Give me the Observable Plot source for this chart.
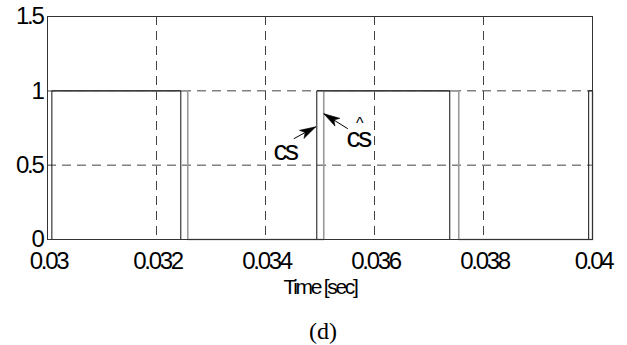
<!DOCTYPE html>
<html>
<head>
<meta charset="utf-8">
<script src="https://cdn.jsdelivr.net/npm/d3@7"></script>
<script src="https://cdn.jsdelivr.net/npm/@observablehq/plot@0.6"></script>
<style>
  html, body { margin: 0; padding: 0; background: #fff; }
  #wrap { width: 627px; height: 345px; position: relative; }
  #chart svg { display: block; }
  #caption { position: absolute; left: 0; top: 310px; width: 627px; height: 35px;
    text-align: center; font-family: 'Liberation Serif', 'DejaVu Serif', serif; font-size: 24px;
    line-height: 24px; padding-top: 9px; box-sizing: border-box; padding-left: 19px; }
</style>
</head>
<body>
<div id="wrap">
  <div id="chart"></div>
  <div id="caption"></div>
</div>
<script>
// ---- data ----
const csTime   = [0.03, 0.03008, 0.032446, 0.034941, 0.037381, 0.03993, 0.04];
const csValue  = [0,    1,       0,        1,        0,        1,       1];
const hatTime  = [0.03, 0.032574, 0.035069, 0.037546, 0.04];
const hatValue = [1,    0,        1,        0,        1];

const xTicks = [0.03, 0.032, 0.034, 0.036, 0.038, 0.04];
const xTickLabels = ["0.03", "0.032", "0.034", "0.036", "0.038", "0.04"];
const yTicks = [0, 0.5, 1, 1.5];
const yTickLabels = ["0", "0.5", "1", "1.5"];
const xGrid = [0.032, 0.034, 0.036, 0.038];
const yGrid = [0.5, 1];

const xLabel = "Time [sec]";
const caption = "(d)";

// annotation arrows (start -> tip) and labels
const arrowFromT = [0.034519, 0.035510];
const arrowFromV = [0.678, 0.745];
const arrowToT   = [0.034923, 0.035070];
const arrowToV   = [0.758, 0.846];
const labelText  = ["cs", "cs", "^"];
const labelT     = [0.034360, 0.035700, 0.035710];
const labelV     = [0.594, 0.681, 0.780];
const labelSize  = [28, 28, 16];

// ---- layout ----
const W = 627, H = 310, ML = 47, MR = 35, MT = 16, MB = 71;
const X0 = 0.03, X1 = 0.04, Y0 = 0, Y1 = 1.5;

// ---- build tables ----
const csData = csTime.map((t, i) => ({t, v: csValue[i]}));
const hatData = hatTime.map((t, i) => ({t, v: hatValue[i]}));
const pxX = (W - ML - MR) / (X1 - X0), pxY = (H - MT - MB) / (Y1 - Y0);
const arrows = arrowFromT.map((t, i) => ({x1: t, y1: arrowFromV[i], x2: arrowToT[i], y2: arrowToV[i]}));
const labels = labelText.map((s, i) => ({s, t: labelT[i], v: labelV[i], size: labelSize[i]}));

// filled wedge arrowhead symbol, tip at the symbol origin
function wedge(a) {
  const dx = (a.x2 - a.x1) * pxX, dy = -(a.y2 - a.y1) * pxY;
  const n = Math.hypot(dx, dy), ux = dx / n, uy = dy / n, px = -uy, py = ux;
  const L = 16, R = 4.6, N = 12;
  return {
    draw(ctx) {
      ctx.moveTo(0, 0);
      ctx.lineTo(-L * ux + R * px, -L * uy + R * py);
      ctx.lineTo(-N * ux, -N * uy);
      ctx.lineTo(-L * ux - R * px, -L * uy - R * py);
      ctx.closePath();
    }
  };
}

const FONT = "'Liberation Sans', Arial, sans-serif";

const chart = Plot.plot({
  width: W,
  height: H,
  marginLeft: ML,
  marginRight: MR,
  marginTop: MT,
  marginBottom: MB,
  style: {fontFamily: FONT, fontSize: "24px", color: "black", background: "white", letterSpacing: "-2.3px"},
  x: {domain: [X0, X1]},
  y: {domain: [Y0, Y1]},
  marks: [
    Plot.gridX(xGrid, {stroke: "#222", strokeOpacity: 0.85, strokeDasharray: "9,6"}),
    Plot.gridY(yGrid, {stroke: "#222", strokeOpacity: 0.85, strokeDasharray: "9,6"}),
    Plot.line(hatData, {x: "t", y: "v", curve: "step-after", stroke: "#9a9a9a", strokeWidth: 1.6}),
    Plot.line(csData, {x: "t", y: "v", curve: "step-after", stroke: "#111", strokeWidth: 1}),
    Plot.frame({stroke: "#333", strokeWidth: 1}),
    Plot.axisX({ticks: xTicks, tickSize: 0, tickPadding: 12, label: null, dx: 1,
      tickFormat: (d) => xTickLabels[xTicks.indexOf(d)], fontSize: 24}),
    Plot.axisY({ticks: yTicks, tickSize: 0, tickPadding: 5, label: null,
      tickFormat: (d) => yTickLabels[yTicks.indexOf(d)], fontSize: 24}),
    Plot.link(arrows, {x1: "x1", y1: "y1", x2: "x2", y2: "y2", stroke: "black", strokeWidth: 1}),
    ...arrows.map(a => Plot.dot([a], {x: "x2", y: "y2", r: 6, symbol: wedge(a), fill: "black", stroke: "black", strokeWidth: 0.6})),
    Plot.text(labels, {x: "t", y: "v", text: "s", fontSize: (d) => d.size, fill: "black"}),
    Plot.text([xLabel], {frameAnchor: "bottom", text: (d) => d, dy: 54, fontSize: 21, fill: "black"})
  ]
});
document.getElementById("chart").append(chart);
document.getElementById("caption").textContent = caption;
</script>
</body>
</html>
